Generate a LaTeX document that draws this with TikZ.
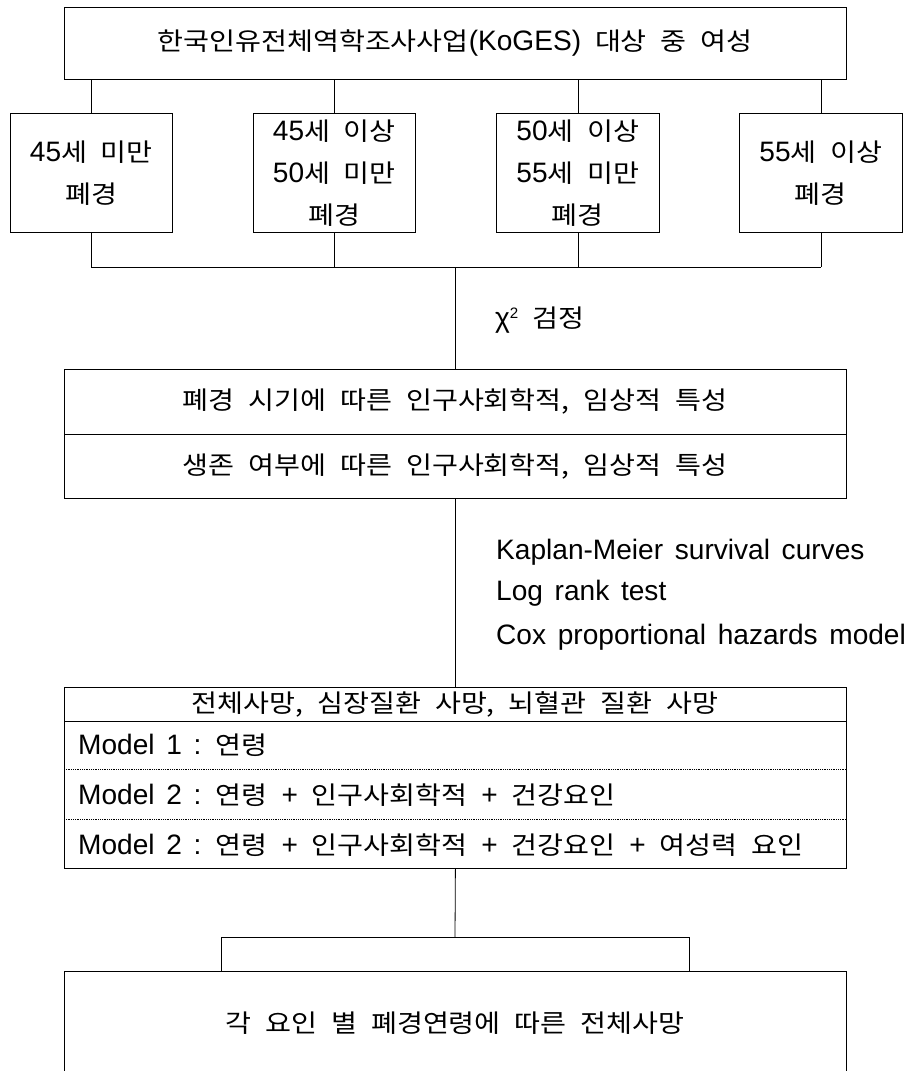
\documentclass[tikz,border=0pt]{standalone}
\usepackage{fontspec}
\setmainfont{Noto Sans CJK KR}[Scale=0.96, FakeStretch=1.13, WordSpace=2.2]
\newfontfamily\lat{Liberation Sans}[Scale=1.08, WordSpace=1.5]
\begin{document}
\begin{tikzpicture}[x=1pt,y=-1pt,
  box/.style={draw, line width=0.8pt, rectangle, inner sep=0pt, anchor=north west},
  txt/.style={font=\fontsize{26}{42}\selectfont, inner sep=0pt, align=center},
  lbl/.style={font=\fontsize{26}{42}\selectfont, inner sep=0pt, anchor=west},
  conn/.style={line width=0.8pt},
  dot/.style={line width=0.6pt, dotted, dash pattern=on 0.6pt off 1.2pt}]
\useasboundingbox (0,0) rectangle (909,1071);

% top box
\node[box, minimum width=782pt, minimum height=72pt] (top) at (64,7) {};
\node[txt] (toptxt) at (455,43) {한국인유전체역학조사사업{\lat (KoGES)} 대상 중 여성};

% children
\node[box, minimum width=162pt, minimum height=119pt] (c1) at (10,113) {};
\node[box, minimum width=162pt, minimum height=119pt] (c2) at (253,113) {};
\node[box, minimum width=163pt, minimum height=119pt] (c3) at (496,113) {};
\node[box, minimum width=163pt, minimum height=119pt] (c4) at (739,113) {};
\node[txt] (t1) at (c1.center) {{\lat 45}세 미만\\폐경};
\node[txt] (t2) at (c2.center) {{\lat 45}세 이상\\{\lat 50}세 미만\\폐경};
\node[txt] (t3) at (c3.center) {{\lat 50}세 이상\\{\lat 55}세 미만\\폐경};
\node[txt] (t4) at (c4.center) {{\lat 55}세 이상\\폐경};

\foreach \c in {c1,c2,c3,c4} {
  \draw[conn] (top.south -| \c.north) -- (\c.north);
}
\coordinate (busL) at (91,267);
\coordinate (busR) at (820.5,267);
\coordinate (busM) at (455,267);
\foreach \c in {c1,c2,c3,c4} {
  \draw[conn] (\c.south) -- (\c.south |- busL);
}
\draw[conn] (busL) -- (busR);

% second box
\node[box, minimum width=782pt, minimum height=129pt] (b2) at (64,369) {};
\draw[conn] (64,434) -- (846,434);
\node[txt] (b2a) at (455,401) {폐경 시기에 따른 인구사회학적, 임상적 특성};
\node[txt] (b2b) at (455,466) {생존 여부에 따른 인구사회학적, 임상적 특성};
\draw[conn] (busM) -- (busM |- b2.north);
\node[lbl] (chi) at (495,320) {{\lat χ\raisebox{9pt}{\fontsize{14}{14}\selectfont 2}}\ 검정};

% third box
\node[box, minimum width=782pt, minimum height=181pt] (b3) at (64,687) {};
\draw[conn] (b2.south) -- (b3.north);
\node[lbl] (k1) at (496,552) {\lat Kaplan-Meier survival curves};
\node[lbl] (k2) at (496,593) {\lat Log rank test};
\node[lbl] (k3) at (496,637) {\lat Cox proportional hazards model};

\draw[conn] (64,721) -- (846,721);
\draw[dot] (64,769) -- (846,769);
\draw[dot] (64,819) -- (846,819);
\node[txt] (h) at (455,704) {전체사망, 심장질환 사망, 뇌혈관 질환 사망};
\node[lbl] (m1) at (78,745) {{\lat Model 1 : }연령};
\node[lbl] (m2) at (78,795) {{\lat Model 2 : }연령 {\lat +} 인구사회학적 {\lat +} 건강요인};
\node[lbl] (m3) at (78,845) {{\lat Model 2 : }연령 {\lat +} 인구사회학적 {\lat +} 건강요인 {\lat +} 여성력 요인};

% bottom
\node[box, minimum width=782pt, minimum height=140pt] (b4) at (64,971) {};
\coordinate (brM) at (455,937);
\coordinate (brL) at (221,937);
\coordinate (brR) at (689,937);
\draw[conn] (b3.south) -- (brM);
\draw[conn] (brL |- b4.north) -- (brL) -- (brR) -- (brR |- b4.north);
\node[txt] (b4t) at (455,1023) {각 요인 별 폐경연령에 따른 전체사망};
\end{tikzpicture}
\end{document}
